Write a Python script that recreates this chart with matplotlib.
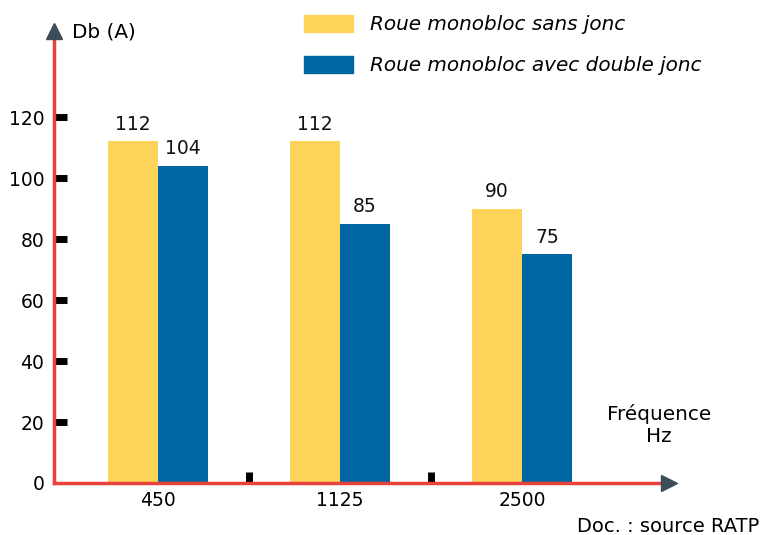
import matplotlib.pyplot as plt
from matplotlib.patches import Patch

plt.rcParams['font.family'] = ['DejaVu Sans']

# data
frequencies = ['450', '1125', '2500']
sans_jonc = [112, 112, 90]
double_jonc = [104, 85, 75]
y_ticks = [0, 20, 40, 60, 80, 100, 120]
series_names = ['Roue monobloc sans jonc', 'Roue monobloc avec double jonc']

yellow = '#FDD35A'
blue = '#0066A1'
red = '#E8423A'
dark = '#3C4D59'
fs = 13.5   # numbers
fs_txt = 14.4  # words

fig = plt.figure(figsize=(7.62, 5.35), dpi=100)
ax = fig.add_axes([54 / 762, 52 / 535, 615 / 762, 452.5 / 535])

width = 0.275
xs = list(range(len(frequencies)))
b1 = ax.bar([x - width / 2 for x in xs], sans_jonc, width, color=yellow)
b2 = ax.bar([x + width / 2 for x in xs], double_jonc, width, color=blue)

for bars, vals in ((b1, sans_jonc), (b2, double_jonc)):
    for rect, v in zip(bars, vals):
        ax.text(rect.get_x() + rect.get_width() / 2, v + 2.5, str(v),
                ha='center', va='bottom', fontsize=fs, color='#111111')

ax.set_xlim(-0.571, 2.808)
ax.set_ylim(0, 148.4)

# axes with arrow heads
for side in ('top', 'right'):
    ax.spines[side].set_visible(False)
for side in ('left', 'bottom'):
    ax.spines[side].set_color(red)
    ax.spines[side].set_linewidth(2.5)
ax.plot([0], [1.0], marker='^', markersize=12, color=dark,
        transform=ax.transAxes, clip_on=False, zorder=5)
ax.plot([1.0], [0], marker='>', markersize=12, color=dark,
        transform=ax.transAxes, clip_on=False, zorder=5)

# y ticks: black stubs, no stub at 0
ax.set_yticks(y_ticks)
ax.set_yticklabels([str(t) for t in y_ticks], fontsize=fs)
ax.tick_params(axis='y', direction='in', length=9.5, width=5, color='black',
               pad=7)
ax.yaxis.get_major_ticks()[0].tick1line.set_visible(False)

# x ticks: labels at groups, stubs between groups
ax.set_xticks(xs)
ax.set_xticklabels(frequencies, fontsize=fs)
ax.tick_params(axis='x', which='major', length=0, pad=6)
ax.set_xticks([0.5, 1.5], minor=True)
ax.tick_params(axis='x', which='minor', direction='in', length=8, width=5,
               color='black')

fig.text(72 / 762, 1 - 32 / 535, 'Db (A)', fontsize=fs_txt, va='center',
         ha='left')
fig.text(659 / 762, 1 - 425 / 535, 'Fréquence\nHz', fontsize=fs_txt,
         ha='center', va='center', linespacing=1.15)
fig.text(759 / 762, 1 - 526 / 535, 'Doc. : source RATP', fontsize=14,
         ha='right', va='center')

handles = [Patch(color=yellow), Patch(color=blue)]
fig.legend(handles, series_names, loc='upper left',
           bbox_to_anchor=(290 / 762, 1 - 1 / 535), frameon=False,
           prop={'style': 'italic', 'size': fs_txt},
           handlelength=2.45, handleheight=0.95, labelspacing=1.05,
           handletextpad=0.85, borderpad=0.2)

fig.savefig('out.png', dpi=100)
